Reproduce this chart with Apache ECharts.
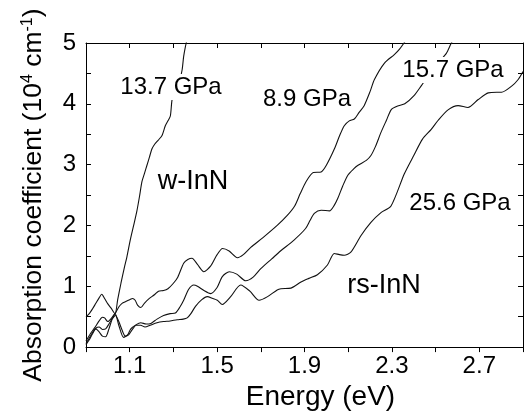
<!DOCTYPE html>
<html>
<head>
<meta charset="utf-8">
<script src="https://cdn.jsdelivr.net/npm/echarts@6/dist/echarts.min.js"></script>
<style>
html,body{margin:0;padding:0;background:#fff;}
#chart{width:526px;height:416px;}
</style>
</head>
<body>
<div id="chart"></div>
<script>
// energy (eV) / absorption (10^4 cm^-1)
var e137 = [0.900,0.915,0.930,0.945,0.960,0.972,0.985,1.000,1.015,1.033,1.045,1.060,1.075,1.087,1.102,1.118,1.133,1.145,1.156,1.168,1.179,1.190,1.202,1.215,1.230,1.248,1.263,1.275,1.286,1.294,1.305,1.318,1.330,1.340,1.347,1.355,1.362];
var a137 = [0.50,0.55,0.63,0.72,0.81,0.87,0.80,0.71,0.64,0.55,0.78,1.05,1.30,1.48,1.75,2.00,2.24,2.48,2.72,2.86,2.99,3.12,3.26,3.34,3.40,3.48,3.64,3.72,3.80,4.07,4.16,4.28,4.40,4.56,4.78,4.94,5.05];

var e89 = [0.900,0.915,0.930,0.945,0.960,0.975,0.990,1.005,1.020,1.035,1.050,1.065,1.082,1.100,1.113,1.125,1.136,1.151,1.167,1.190,1.213,1.232,1.255,1.275,1.300,1.320,1.347,1.366,1.385,1.410,1.439,1.470,1.500,1.525,1.555,1.593,1.620,1.654,1.710,1.775,1.820,1.855,1.880,1.907,1.940,1.976,2.000,2.037,2.060,2.082,2.105,2.128,2.150,2.173,2.200,2.220,2.266,2.311,2.335,2.365];
var a89 = [0.06,0.15,0.24,0.31,0.33,0.29,0.30,0.38,0.47,0.56,0.66,0.72,0.75,0.78,0.80,0.77,0.69,0.65,0.72,0.80,0.86,0.92,0.93,0.96,1.05,1.15,1.38,1.44,1.46,1.36,1.24,1.33,1.52,1.62,1.58,1.47,1.52,1.64,1.80,2.00,2.16,2.32,2.52,2.72,2.87,2.88,2.99,3.26,3.47,3.64,3.72,3.75,3.86,3.97,4.20,4.40,4.67,4.81,4.90,5.05];

var e157 = [0.900,0.920,0.940,0.960,0.975,0.985,1.000,1.015,1.033,1.050,1.072,1.090,1.105,1.130,1.151,1.175,1.197,1.225,1.255,1.285,1.309,1.330,1.347,1.370,1.393,1.410,1.440,1.470,1.500,1.524,1.556,1.590,1.631,1.665,1.700,1.750,1.790,1.852,1.905,1.925,1.945,1.976,2.014,2.036,2.053,2.075,2.099,2.125,2.145,2.183,2.204,2.225,2.250,2.275,2.298,2.330,2.359,2.400,2.435,2.465,2.511,2.549,2.572,2.590];
var a157 = [0.10,0.22,0.32,0.43,0.49,0.48,0.42,0.47,0.55,0.36,0.16,0.20,0.30,0.37,0.40,0.38,0.39,0.46,0.52,0.55,0.56,0.66,0.77,0.95,1.02,1.00,0.93,0.88,0.98,1.16,1.24,1.20,1.09,1.15,1.29,1.45,1.58,1.76,1.95,2.08,2.20,2.25,2.24,2.33,2.45,2.65,2.83,2.93,2.99,3.07,3.15,3.30,3.53,3.73,3.91,3.97,4.00,4.13,4.30,4.45,4.67,4.83,5.00,5.10];

var e256 = [0.900,0.915,0.930,0.945,0.960,0.975,0.990,1.005,1.020,1.035,1.050,1.065,1.080,1.095,1.110,1.130,1.150,1.170,1.194,1.225,1.255,1.285,1.317,1.345,1.363,1.380,1.401,1.430,1.455,1.480,1.501,1.524,1.560,1.608,1.650,1.692,1.731,1.775,1.792,1.838,1.884,1.920,1.959,2.005,2.036,2.060,2.082,2.112,2.158,2.204,2.250,2.296,2.357,2.400,2.440,2.480,2.512,2.557,2.603,2.648,2.695,2.741,2.780,2.802,2.848,2.878,2.900];
var a256 = [0.04,0.12,0.22,0.30,0.25,0.18,0.17,0.30,0.46,0.52,0.42,0.28,0.18,0.20,0.28,0.36,0.36,0.33,0.36,0.40,0.42,0.43,0.45,0.46,0.48,0.55,0.67,0.78,0.83,0.80,0.77,0.70,0.82,1.02,0.92,0.77,0.83,0.94,0.96,0.97,1.07,1.13,1.19,1.35,1.54,1.52,1.51,1.56,1.83,2.05,2.21,2.32,2.85,3.15,3.42,3.58,3.73,3.90,3.97,3.94,4.07,4.18,4.19,4.19,4.29,4.40,4.53];

var xTicks = [1.1, 1.5, 1.9, 2.3, 2.7];
var yTicks = [0, 1, 2, 3, 4, 5];

// axis drawn as 0.8..2.8 so min is a multiple of the 0.2 tick step, labels shifted back
var shift = 0.1;
var font = "'Liberation Sans', Arial, sans-serif";

function pairs(e, a) {
    var out = [];
    for (var i = 0; i < e.length; i++) {
        out.push([e[i] - shift, a[i]]);
    }
    return out;
}

function curve(name, e, a) {
    return {
        name: name,
        type: 'line',
        data: pairs(e, a),
        showSymbol: false,
        symbol: 'none',
        smooth: 0.25,
        clip: true,
        lineStyle: { color: '#111', width: 1.1 },
        xAxisIndex: 0,
        yAxisIndex: 0
    };
}

function label(text, x, y, size, bg) {
    return {
        type: 'text',
        x: x,
        y: y,
        z: 100,
        style: {
            text: text,
            font: size + 'px ' + font,
            fill: '#000',
            align: 'center',
            verticalAlign: 'middle',
            backgroundColor: bg ? '#fff' : null,
            padding: bg ? [1, 3] : 0
        }
    };
}

var myChart = echarts.init(document.getElementById('chart'), null, { renderer: 'canvas' });
var option = {
    animation: false,
    backgroundColor: '#fff',
    grid: { left: 86, right: 2, top: 43, bottom: 65 },
    xAxis: [
        {
            type: 'value',
            min: 0.8,
            max: 2.8,
            interval: 0.2,
            name: 'Energy (eV)',
            nameLocation: 'middle',
            nameGap: 32,
            nameTextStyle: { fontFamily: font, fontSize: 28, color: '#000', padding: [0, 0, 0, 32] },
            axisLine: { show: true, onZero: false, lineStyle: { color: '#000', width: 1 } },
            axisTick: { show: true, inside: false, length: 5, lineStyle: { color: '#000' } },
            splitLine: { show: false },
            axisLabel: {
                margin: 7,
                fontFamily: font,
                fontSize: 24,
                color: '#000',
                formatter: function (v) {
                    var e = Math.round((v + shift) * 10) / 10;
                    return xTicks.indexOf(e) >= 0 ? e.toFixed(1) : '';
                }
            }
        },
        {
            type: 'value',
            position: 'top',
            min: 0.8,
            max: 2.8,
            interval: 0.2,
            axisLine: { show: true, onZero: false, lineStyle: { color: '#000', width: 1 } },
            axisTick: { show: true, inside: true, length: 5, lineStyle: { color: '#000' } },
            axisLabel: { show: false },
            splitLine: { show: false }
        }
    ],
    yAxis: [
        {
            type: 'value',
            min: 0,
            max: 5,
            interval: 0.5,
            name: 'Absorption coefficient (10{s|4} cm{s|-1})',
            nameLocation: 'middle',
            nameGap: 39,
            nameTextStyle: {
                fontFamily: font,
                fontSize: 26.5,
                color: '#000',
                rich: {
                    s: { fontFamily: font, fontSize: 16, color: '#000', verticalAlign: 'top', padding: [0, 0, 10, 0] }
                }
            },
            axisLine: { show: true, onZero: false, lineStyle: { color: '#000', width: 1 } },
            axisTick: { show: true, inside: true, length: 5, lineStyle: { color: '#000' } },
            splitLine: { show: false },
            axisLabel: {
                margin: 10,
                fontFamily: font,
                fontSize: 24,
                color: '#000',
                formatter: function (v) {
                    return yTicks.indexOf(v) >= 0 ? String(v) : '';
                }
            }
        },
        {
            type: 'value',
            position: 'right',
            min: 0,
            max: 5,
            interval: 0.5,
            axisLine: { show: true, onZero: false, lineStyle: { color: '#000', width: 1 } },
            axisTick: { show: true, inside: true, length: 5, lineStyle: { color: '#000' } },
            axisLabel: { show: false },
            splitLine: { show: false }
        }
    ],
    series: [
        curve('13.7 GPa', e137, a137),
        curve('8.9 GPa', e89, a89),
        curve('15.7 GPa', e157, a157),
        curve('25.6 GPa', e256, a256)
    ],
    graphic: [
        label('13.7 GPa', 171, 87, 24, true),
        label('w-InN', 193, 182, 27, false),
        label('8.9 GPa', 307, 99, 24, false),
        label('15.7 GPa', 453, 70, 24, true),
        label('25.6 GPa', 460, 203, 24, false),
        label('rs-InN', 384, 286, 27, false)
    ]
};
myChart.setOption(option);
</script>
</body>
</html>
